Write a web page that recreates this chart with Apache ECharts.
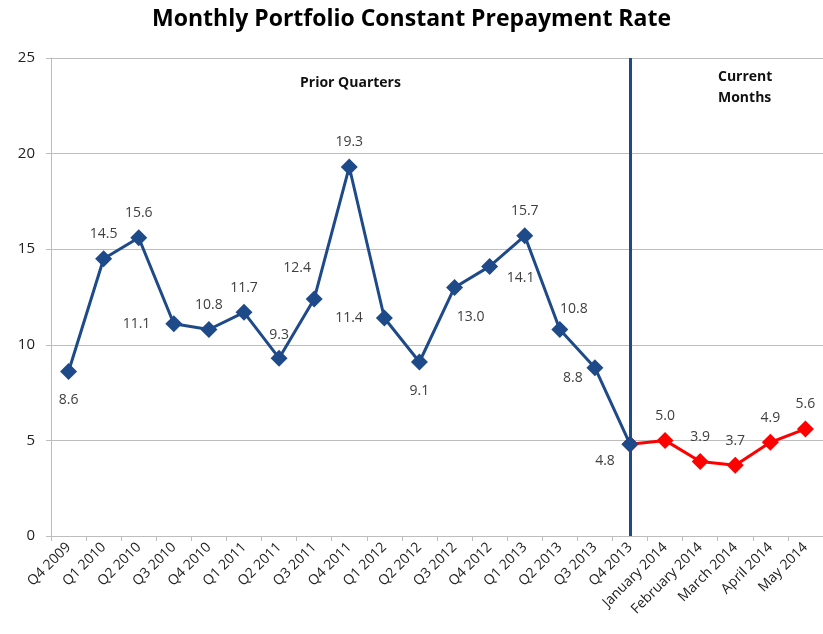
<!DOCTYPE html>
<html>
<head>
<meta charset="utf-8">
<script src="https://cdn.jsdelivr.net/npm/echarts@6/dist/echarts.min.js"></script>
<style>
  html, body { margin: 0; padding: 0; background: #fff; }
  #chart { width: 823px; height: 634px; }
</style>
</head>
<body>
<div id="chart"></div>
<script>
var categories = ['Q4 2009', 'Q1 2010', 'Q2 2010', 'Q3 2010', 'Q4 2010', 'Q1 2011', 'Q2 2011', 'Q3 2011',
  'Q4 2011', 'Q1 2012', 'Q2 2012', 'Q3 2012', 'Q4 2012', 'Q1 2013', 'Q2 2013', 'Q3 2013', 'Q4 2013',
  'January 2014', 'February 2014', 'March 2014', 'April 2014', 'May 2014'];
var priorQuarters = [8.6, 14.5, 15.6, 11.1, 10.8, 11.7, 9.3, 12.4, 19.3, 11.4, 9.1, 13.0, 14.1, 15.7, 10.8, 8.8, 4.8,
  null, null, null, null, null];
var currentMonths = [null, null, null, null, null, null, null, null, null, null, null, null, null, null, null, null, 4.8,
  5.0, 3.9, 3.7, 4.9, 5.6];
var yTicks = [0, 5, 10, 15, 20, 25];

// where each label sits next to its point (only the ones that aren't plain "above")
var labelPlace = {
  0: { position: 'bottom', distance: 13 },
  3: { position: 'left', distance: 15 },
  6: { position: 'top', distance: 8 },
  7: { position: 'top', offset: [-17, -6] },
  9: { position: 'left', distance: 13 },
  10: { position: 'bottom', distance: 14 },
  11: { position: 'inside', offset: [16, 30] },
  12: { position: 'inside', offset: [31, 12] },
  14: { position: 'inside', offset: [14, -20] },
  15: { position: 'inside', offset: [-22, 10] },
  16: { position: 'inside', offset: [-25, 17] }
};

var BLUE = '#1F4A8A';
var RED = '#FF0000';
var TEXT = '#404040';

function labelled(values, skipIndex) {
  return values.map(function (v, i) {
    if (v === null) return null;
    var item = { value: v };
    if (i === skipIndex) {
      item.label = { show: false };
    } else if (labelPlace[i]) {
      item.label = labelPlace[i];
    }
    return item;
  });
}

function oneDecimal(p) { return p.value.toFixed(1); }

var chart = echarts.init(document.getElementById('chart'), null, { renderer: 'canvas' });
chart.setOption({
  backgroundColor: '#fff',
  animation: false,
  textStyle: { fontFamily: 'Open Sans' },
  title: {
    text: 'Monthly Portfolio Constant Prepayment Rate',
    left: 'center',
    top: 3,
    textStyle: { fontSize: 23, fontWeight: 'bold', color: '#000', fontFamily: 'Open Sans' }
  },
  grid: { left: 51, top: 58, width: 774, height: 478, containLabel: false },
  xAxis: {
    type: 'category',
    data: categories,
    boundaryGap: true,
    axisLine: { lineStyle: { color: '#bdbdbd', width: 1 } },
    axisTick: { show: true, alignWithLabel: false, length: 5, lineStyle: { color: '#bdbdbd' } },
    axisLabel: { interval: 0, rotate: 45, fontSize: 14, color: '#222', margin: 9 }
  },
  yAxis: {
    type: 'value',
    min: yTicks[0],
    max: yTicks[yTicks.length - 1],
    interval: 5,
    axisLine: { show: true, lineStyle: { color: '#bdbdbd', width: 1 } },
    axisTick: { show: true, length: 5, lineStyle: { color: '#bdbdbd' } },
    axisLabel: { fontSize: 15, color: '#222', margin: 16 },
    splitLine: { lineStyle: { color: '#bdbdbd', width: 1 } }
  },
  graphic: [
    { type: 'text', left: 300, top: 76, style: { text: 'Prior Quarters', font: 'bold 14px "Open Sans"', fill: '#111' } },
    { type: 'text', left: 718, top: 67, style: { text: 'Current\nMonths', font: 'bold 14px "Open Sans"', fill: '#111', align: 'center', lineHeight: 21 } }
  ],
  series: [
    {
      name: 'Current Months',
      type: 'line',
      data: labelled(currentMonths, 16),
      z: 2,
      symbol: 'diamond',
      symbolSize: 17,
      connectNulls: false,
      lineStyle: { color: RED, width: 3 },
      itemStyle: { color: RED },
      label: { show: true, position: 'top', distance: 9, fontSize: 14, color: TEXT, formatter: oneDecimal }
    },
    {
      name: 'Prior Quarters',
      type: 'line',
      data: labelled(priorQuarters, -1),
      z: 3,
      symbol: 'diamond',
      symbolSize: 17,
      connectNulls: false,
      lineStyle: { color: BLUE, width: 3 },
      itemStyle: { color: BLUE },
      label: { show: true, position: 'top', distance: 9, fontSize: 14, color: TEXT, formatter: oneDecimal },
      markLine: {
        silent: true,
        symbol: 'none',
        label: { show: false },
        lineStyle: { color: BLUE, width: 3, type: 'solid' },
        data: [{ xAxis: 'Q4 2013' }]
      }
    }
  ]
});
</script>
</body>
</html>
